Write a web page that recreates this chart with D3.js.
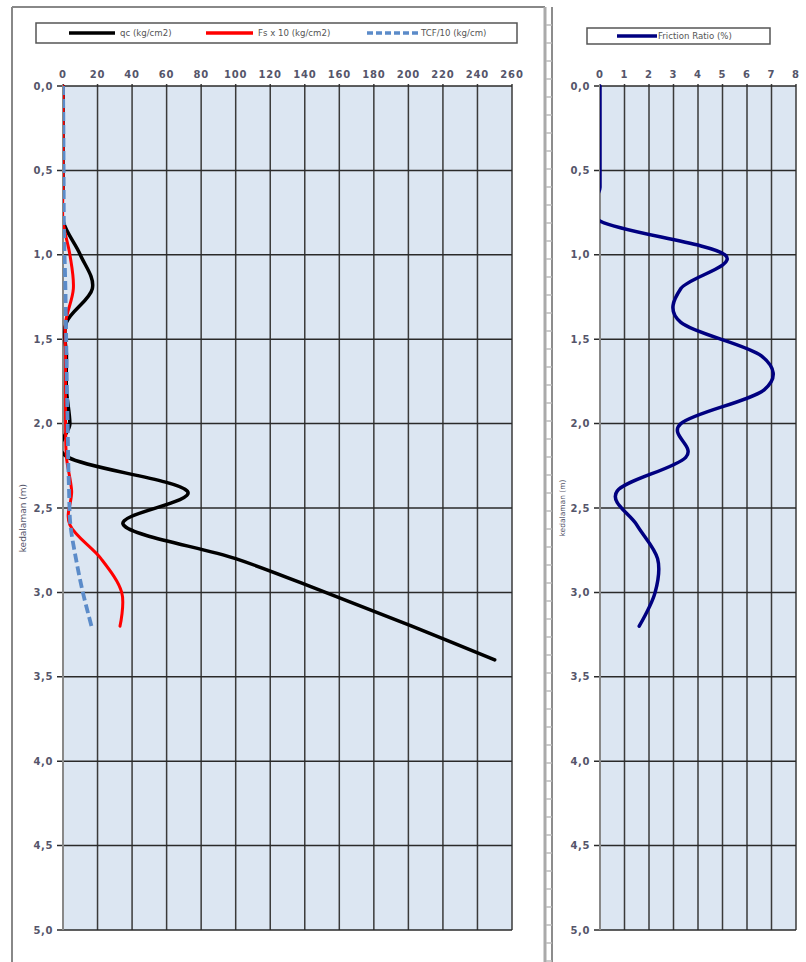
<!DOCTYPE html>
<html><head><meta charset="utf-8">
<script src="https://cdn.jsdelivr.net/npm/d3@7"></script>
<style>body{margin:0;background:#fff}svg{display:block}</style>
</head><body>
<script>
// ---- data ----
const depthQc = [0,0.2,0.4,0.6,0.8,1.0,1.2,1.4,1.6,1.8,2.0,2.2,2.4,2.6,2.8,3.0,3.2,3.4];
const qc      = [0,0,0,0,0,10,17,2,2,2,4,3,72,35,100,152,202,250];
const depth   = [0,0.2,0.4,0.6,0.8,1.0,1.2,1.4,1.6,1.8,2.0,2.2,2.4,2.6,2.8,3.0,3.2];
const fsx10   = [0,0,0,0,0,4,6,1.5,1.5,1.5,1.5,2,5,4,22,34,33];
const tcf10   = [0,0.2,0.3,0.4,0.5,0.9,1.4,1.7,2.0,2.3,2.7,3.0,3.5,4.3,7.5,11.5,16.5];
const frictionRatio = [0,0,0,0,0,5.1,3.3,3.3,6.6,6.7,3.3,3.5,0.7,1.5,2.35,2.25,1.6];
const leftTicks  = [0,20,40,60,80,100,120,140,160,180,200,220,240,260];
const rightTicks = [0,1,2,3,4,5,6,7,8];
const depthTicks = [0,0.5,1,1.5,2,2.5,3,3.5,4,4.5,5];
const legendLeft = ["qc (kg/cm2)","Fs x 10 (kg/cm2)","TCF/10 (kg/cm)"];
const legendRight = ["Friction Ratio (%)"];
const yTitle = "kedalaman (m)";

const W=806,H=962;
const svg=d3.select("body").append("svg").attr("width",W).attr("height",H);

const y=d3.scaleLinear().domain([0,5]).range([86,930]);
const xL=d3.scaleLinear().domain([0,260]).range([63,512]);
const xR=d3.scaleLinear().domain([0,8]).range([600,796]);
const fmt=d=>d3.format(".1f")(d).replace(".",",");
const FONT="DejaVu Sans, Verdana, sans-serif";

// ---- frame ----
svg.append("line").attr("x1",12).attr("x2",12).attr("y1",7).attr("y2",H).attr("stroke","#888").attr("stroke-width",2);
svg.append("line").attr("x1",12).attr("x2",545).attr("y1",7).attr("y2",7).attr("stroke","#888").attr("stroke-width",2);
svg.append("line").attr("x1",545).attr("x2",545).attr("y1",7).attr("y2",H).attr("stroke","#aaa").attr("stroke-width",3);
svg.append("line").attr("x1",552).attr("x2",552).attr("y1",7).attr("y2",H).attr("stroke","#666").attr("stroke-width",1.5);
for(let yy=25; yy<H; yy+=18){
  svg.append("line").attr("x1",546).attr("x2",552).attr("y1",yy).attr("y2",yy).attr("stroke","#bbb").attr("stroke-width",1.5);
}

function panel(x, ticks, id){
  const g=svg.append("g");
  const [a,b]=x.range();
  g.append("rect").attr("x",a).attr("y",y(0)).attr("width",b-a).attr("height",y(5)-y(0)).attr("fill","#dce6f2");
  g.selectAll(".vg").data(ticks.slice(1)).enter().append("line")
    .attr("x1",d=>x(d)).attr("x2",d=>x(d)).attr("y1",y(0)-2).attr("y2",y(5))
    .attr("stroke","#3a3a3a").attr("stroke-width",1.5);
  g.selectAll(".hg").data(depthTicks).enter().append("line")
    .attr("x1",a-6).attr("x2",b).attr("y1",d=>y(d)).attr("y2",d=>y(d))
    .attr("stroke","#2a2a2a").attr("stroke-width",1.5);
  g.append("line").attr("x1",a).attr("x2",a).attr("y1",y(0)-2).attr("y2",y(5)).attr("stroke","#888").attr("stroke-width",2);
  g.selectAll(".xl").data(ticks).enter().append("text")
    .attr("x",d=>x(d)).attr("y",78).attr("text-anchor","middle")
    .attr("font-family",FONT).attr("font-size",10).attr("font-weight","bold").attr("letter-spacing",0.8)
    .attr("fill","#55556a").text(d=>d);
  g.selectAll(".yl").data(depthTicks).enter().append("text")
    .attr("x",a-10).attr("y",d=>y(d)+3.5).attr("text-anchor","end")
    .attr("font-family",FONT).attr("font-size",10).attr("font-weight","bold").attr("letter-spacing",0.6)
    .attr("fill","#55556a").text(fmt);
  svg.append("clipPath").attr("id",id).append("rect").attr("x",a).attr("y",y(0)-2).attr("width",b-a+4).attr("height",y(5)-y(0)+4);
  return g;
}
panel(xL,leftTicks,"clipL");
panel(xR,rightTicks,"clipR");

svg.append("text").attr("transform",`translate(26,${y(2.56)}) rotate(-90)`).attr("text-anchor","middle")
  .attr("font-family",FONT).attr("font-size",9).attr("fill","#55556a").text(yTitle);
svg.append("text").attr("transform",`translate(565,${y(2.5)}) rotate(-90)`).attr("text-anchor","middle")
  .attr("font-family",FONT).attr("font-size",7.5).attr("fill","#55556a").text(yTitle);

// ---- lines ----
const curve=d3.curveCatmullRom.alpha(0);
function drawLine(x,vals,deps,color,width,dash,clip){
  const line=d3.line().x(d=>x(d[0])).y(d=>y(d[1])).curve(curve);
  svg.append("path").attr("d",line(vals.map((v,i)=>[v,deps[i]])))
    .attr("fill","none").attr("stroke",color).attr("stroke-width",width)
    .attr("stroke-dasharray",dash||null).attr("stroke-linecap",dash?"butt":"round")
    .attr("clip-path",`url(#${clip})`);
}
drawLine(xL,qc,depthQc,"#000",3.5,null,"clipL");
drawLine(xL,fsx10,depth,"#ff0000",3,null,"clipL");
drawLine(xL,tcf10,depth,"#5b8bc9",3.8,"9,4","clipL");
drawLine(xR,frictionRatio,depth,"#000080",3.5,null,"clipR");

// ---- legends ----
function legend(box, items){
  svg.append("rect").attr("x",box.x).attr("y",box.y).attr("width",box.w).attr("height",box.h)
    .attr("fill","#fff").attr("stroke","#555").attr("stroke-width",1.5);
  const cy=box.y+box.h/2;
  items.forEach(it=>{
    svg.append("line").attr("x1",it.x1).attr("x2",it.x2).attr("y1",cy).attr("y2",cy)
      .attr("stroke",it.color).attr("stroke-width",3.5).attr("stroke-dasharray",it.dash||null);
    svg.append("text").attr("x",it.tx).attr("y",cy+3.2).attr("font-family",FONT).attr("font-size",8.6)
      .attr("fill","#555").text(it.label);
  });
}
legend({x:36,y:23,w:481,h:20},[
  {x1:69,x2:115,tx:120,color:"#000",label:legendLeft[0]},
  {x1:206,x2:253,tx:258,color:"#ff0000",label:legendLeft[1]},
  {x1:367,x2:418,tx:421,color:"#5b8bc9",dash:"6,3",label:legendLeft[2]}
]);
legend({x:587,y:28,w:183,h:16},[
  {x1:617,x2:657,tx:658,color:"#000080",label:legendRight[0]}
]);
</script>
</body></html>
